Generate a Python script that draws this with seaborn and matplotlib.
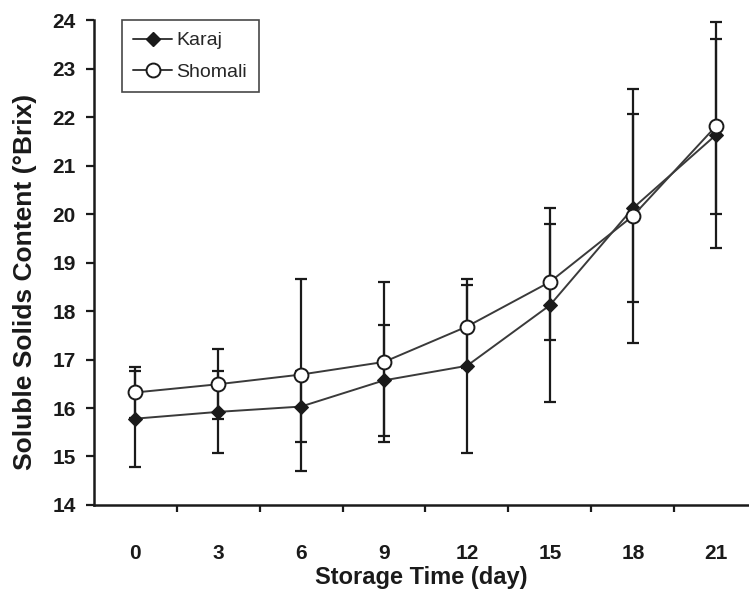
import numpy as np
import pandas as pd
import matplotlib
matplotlib.use("Agg")
import matplotlib.pyplot as plt
import seaborn as sns
from matplotlib.lines import Line2D

# storage days (categorical x)
days = [0, 3, 6, 9, 12, 15, 18, 21]

# mean soluble solids content (°Brix)
karaj = [15.78, 15.92, 16.03, 16.57, 16.87, 18.12, 20.12, 21.63]
shomali = [16.32, 16.49, 16.69, 16.95, 17.68, 18.60, 19.96, 21.81]

# error bar half-widths
karaj_err = [0.99, 0.85, 0.74, 1.14, 1.80, 2.00, 1.94, 2.33]
shomali_err = [0.52, 0.72, 1.98, 1.65, 0.85, 1.20, 2.62, 1.80]

sns.set_theme(style="ticks")
plt.rcParams["font.family"] = ["Liberation Sans", "DejaVu Sans"]

ink = "#1a1a1a"
pos = np.arange(len(days))

df = pd.DataFrame({
    "pos": np.concatenate([pos, pos]),
    "value": karaj + shomali,
    "cultivar": ["Karaj"] * len(days) + ["Shomali"] * len(days),
})

fig = plt.figure(figsize=(7.49, 5.92), dpi=100)
ax = fig.add_axes([0.125, 0.147, 0.875, 0.819])

# error bars first so markers sit on top
ax.errorbar(pos, karaj, yerr=karaj_err, fmt="none", ecolor=ink,
            elinewidth=1.6, capsize=4.5, capthick=1.6, zorder=1)
ax.errorbar(pos, shomali, yerr=shomali_err, fmt="none", ecolor=ink,
            elinewidth=1.6, capsize=4.5, capthick=1.6, zorder=1)

sns.lineplot(data=df, x="pos", y="value", hue="cultivar", style="cultivar",
             palette={"Karaj": "#3a3a3a", "Shomali": "#3a3a3a"},
             markers={"Karaj": "D", "Shomali": "o"}, dashes=False,
             linewidth=1.4, ax=ax, zorder=3, legend=False)

# marker faces
for ln in ax.get_lines():
    if ln.get_marker() == "D":
        ln.set_markerfacecolor(ink)
        ln.set_markeredgecolor(ink)
        ln.set_markersize(7.5)
    elif ln.get_marker() == "o":
        ln.set_markerfacecolor("white")
        ln.set_markeredgecolor(ink)
        ln.set_markeredgewidth(1.4)
        ln.set_markersize(10)

ax.set_xlim(-0.5, 7.4)
ax.set_ylim(14, 24)
ax.set_yticks(range(14, 25))
ax.set_xticks(pos)
ax.set_xticklabels([str(d) for d in days])
ax.set_xticks(pos[:-1] + 0.5, minor=True)
ax.tick_params(axis="x", which="major", length=0, pad=28)
ax.tick_params(axis="x", which="minor", length=5, width=1.6, color=ink)
ax.tick_params(axis="y", length=6, width=1.6, color=ink, pad=7)
for lab in ax.get_xticklabels() + ax.get_yticklabels():
    lab.set_fontsize(15)
    lab.set_fontweight("bold")
    lab.set_color(ink)

for side in ["top", "right"]:
    ax.spines[side].set_visible(False)
for side in ["left", "bottom"]:
    ax.spines[side].set_linewidth(1.8)
    ax.spines[side].set_color(ink)

ax.set_xlabel("Storage Time (day)", fontsize=17, fontweight="bold", color=ink)
ax.xaxis.set_label_coords(0.5, -0.125)
ax.set_ylabel("Soluble Solids Content (°Brix)", fontsize=19, fontweight="bold", color=ink)
ax.yaxis.set_label_coords(-0.087, 0.46)

handles = [
    Line2D([], [], color="#3a3a3a", lw=1.4, marker="D", ms=7, mfc=ink, mec=ink),
    Line2D([], [], color="#3a3a3a", lw=1.4, marker="o", ms=10, mfc="white", mec=ink, mew=1.4),
]
leg = ax.legend(handles, ["Karaj", "Shomali"], loc="upper left",
                bbox_to_anchor=(0.043, 1.0), borderaxespad=0, fontsize=14,
                frameon=True, fancybox=False, edgecolor=ink, handlelength=2.0,
                handletextpad=0.2, labelspacing=0.7, borderpad=0.6)
leg.get_frame().set_linewidth(1.2)

fig.savefig("out.png", dpi=100)
